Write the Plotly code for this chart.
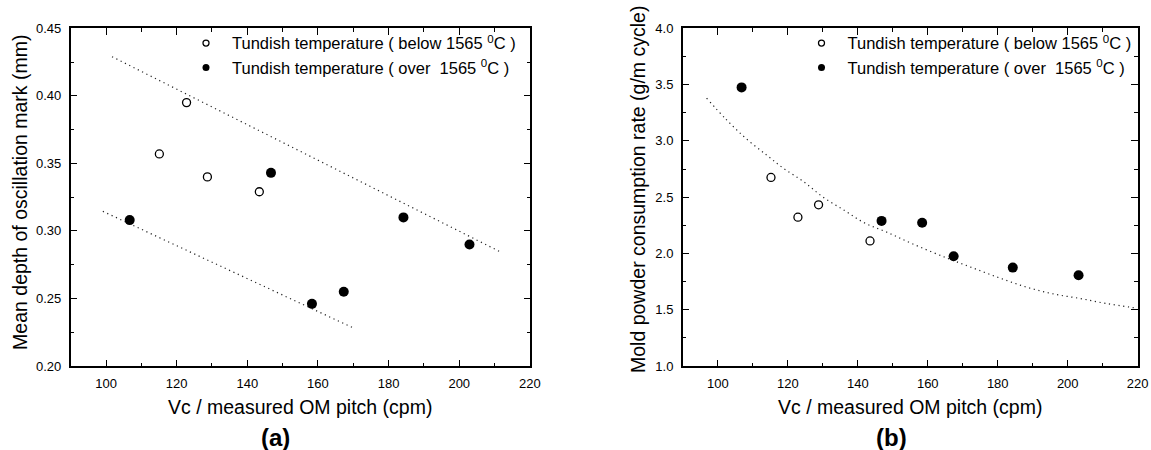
import plotly.graph_objects as go

W, H = 1151, 450

# ---------------- data ----------------
# panel (a): mean depth of oscillation mark (mm)
a_below_x = [115.1, 122.8, 128.7, 143.4]
a_below_y = [0.357, 0.395, 0.340, 0.329]
a_over_x = [106.7, 146.7, 158.3, 167.3, 184.2, 202.9]
a_over_y = [0.308, 0.343, 0.246, 0.255, 0.310, 0.290]
a_upper_x = [101.7, 212.0]
a_upper_y = [0.429, 0.284]
a_lower_x = [99.1, 169.9]
a_lower_y = [0.3145, 0.2283]

# panel (b): mold powder consumption rate (g/m cycle)
b_below_x = [115.2, 122.9, 128.8, 143.5]
b_below_y = [2.675, 2.322, 2.432, 2.111]
b_over_x = [106.8, 146.8, 158.4, 167.4, 184.3, 203.1]
b_over_y = [3.475, 2.289, 2.272, 1.975, 1.874, 1.806]
b_fit_x = [96.8, 102.4, 108.1, 114.1, 118.6, 124.4, 130.1, 136.3, 142.0, 148.2,
           155.3, 165.4, 173.0, 180.7, 188.3, 195.9, 203.5, 211.1, 219.5]
b_fit_y = [3.38, 3.19, 3.02, 2.87, 2.76, 2.64, 2.50, 2.38, 2.27, 2.19,
           2.09, 1.96, 1.87, 1.78, 1.70, 1.64, 1.60, 1.555, 1.515]

x_ticks = [100, 120, 140, 160, 180, 200, 220]
legend_below = "Tundish temperature ( below 1565 <sup>0</sup>C )"
legend_over = "Tundish temperature ( over  1565 <sup>0</sup>C )"
xtitle = "Vc / measured OM pitch (cpm)"
ytitle_a = "Mean depth of oscillation mark (mm)"
ytitle_b = "Mold powder consumption rate (g/m cycle)"

FONT = "Liberation Sans, Arial, Helvetica, sans-serif"

fig = go.Figure()

def marker_style(filled, size):
    return dict(symbol="circle", size=size,
                color="black" if filled else "white",
                line=dict(color="black", width=1.3 if not filled else 0))

def add_points(xs, ys, xa, ya, filled):
    fig.add_trace(go.Scatter(
        x=xs, y=ys, xaxis=xa, yaxis=ya, mode="markers", showlegend=False,
        marker=marker_style(filled, 8 if not filled else 10),
    ))

def add_legend_entry(name, filled, xa, ya, legend):
    # legend-only entry (no data point drawn) so the key symbol can be smaller
    fig.add_trace(go.Scatter(
        x=[None], y=[None], xaxis=xa, yaxis=ya, mode="markers", name=name,
        legend=legend, showlegend=True,
        marker=marker_style(filled, 6 if not filled else 7),
    ))

def add_line(xs, ys, xa, ya, shape="linear"):
    fig.add_trace(go.Scatter(
        x=xs, y=ys, xaxis=xa, yaxis=ya, mode="lines", showlegend=False,
        line=dict(color="#222", width=1.2, dash="1.2px,3.6px", shape=shape),
        hoverinfo="skip",
    ))

add_line(a_upper_x, a_upper_y, "x", "y")
add_line(a_lower_x, a_lower_y, "x", "y")
add_points(a_below_x, a_below_y, "x", "y", False)
add_points(a_over_x, a_over_y, "x", "y", True)
add_legend_entry(legend_below, False, "x", "y", "legend")
add_legend_entry(legend_over, True, "x", "y", "legend")

add_line(b_fit_x, b_fit_y, "x2", "y2", shape="spline")
add_points(b_below_x, b_below_y, "x2", "y2", False)
add_points(b_over_x, b_over_y, "x2", "y2", True)
add_legend_entry(legend_below, False, "x2", "y2", "legend2")
add_legend_entry(legend_over, True, "x2", "y2", "legend2")

def px_x(v):
    return v / W

def px_y(v):
    return (H - v) / H

ydom = [px_y(366.0), px_y(28.3)]

axis_common = dict(
    showline=True, linecolor="black", linewidth=1.5, mirror="ticks",
    ticks="inside", ticklen=6.5, tickwidth=1.2, tickcolor="black",
    showgrid=False, zeroline=False, automargin=False,
    tickfont=dict(family=FONT, size=13, color="black"),
    ticklabelstandoff=5, ticklabeloverflow="allow",
)
minor_common = dict(ticks="inside", ticklen=3.5, tickwidth=1.2, tickcolor="black", showgrid=False)

legend_common = dict(xanchor="left", yanchor="top", bgcolor="rgba(0,0,0,0)",
                     font=dict(family=FONT, size=16.5, color="black"),
                     itemclick=False, tracegroupgap=0, itemwidth=42)

fig.update_layout(
    width=W, height=H,
    margin=dict(l=0, r=0, t=0, b=0, autoexpand=False),
    paper_bgcolor="white", plot_bgcolor="white",
    font=dict(family=FONT, color="black"),
    xaxis=dict(domain=[px_x(70.7), px_x(529.9)], range=[90, 220], anchor="y",
               tickvals=x_ticks, minor=dict(dtick=10, tick0=90, **minor_common), **axis_common),
    yaxis=dict(domain=ydom, range=[0.20, 0.45], anchor="x", dtick=0.05, tick0=0.2,
               tickformat=".2f", minor=dict(dtick=0.025, tick0=0.2, **minor_common), **axis_common),
    xaxis2=dict(domain=[px_x(682.8), px_x(1137.7)], range=[90, 220], anchor="y2",
                tickvals=x_ticks, minor=dict(dtick=10, tick0=90, **minor_common), **axis_common),
    yaxis2=dict(domain=ydom, range=[1.0, 4.0], anchor="x2", dtick=0.5, tick0=1.0,
                tickformat=".1f", minor=dict(dtick=0.25, tick0=1.0, **minor_common), **axis_common),
    legend=dict(x=px_x(180.0), y=px_y(25.8), **legend_common),
    legend2=dict(x=px_x(795.5), y=px_y(25.8), **legend_common),
    showlegend=True,
)

ann = []
def add_ann(text, x, y, size, angle=0, bold=False):
    ann.append(dict(text=("<b>%s</b>" % text) if bold else text, x=px_x(x), y=px_y(y),
                    xref="paper", yref="paper", showarrow=False, textangle=angle,
                    xanchor="center", yanchor="middle",
                    font=dict(family=FONT, size=size, color="black")))

add_ann(xtitle, 300.3, 406.7, 19.5)
add_ann(xtitle, 910.2, 406.7, 19.5)
add_ann("(a)", 275.2, 437.5, 24, bold=True)
add_ann("(b)", 891.5, 437.5, 24, bold=True)
add_ann(ytitle_a, 19.4, 192.5, 19.5, angle=-90)
add_ann(ytitle_b, 638, 190, 19.5, angle=-90)
fig.update_layout(annotations=ann)

# remove the page's default 8px body margin so the figure sits at the window origin
fig.write_html(
    "out.html",
    config={"responsive": False, "displayModeBar": False},
    post_script="document.body.style.margin='0';document.body.style.overflow='hidden';",
)
